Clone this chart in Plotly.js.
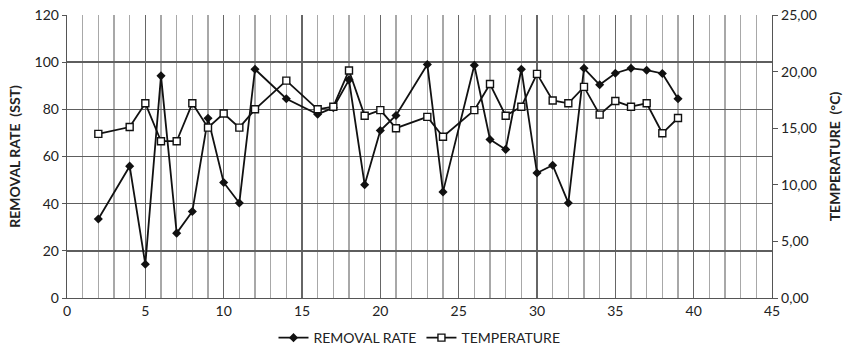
<!DOCTYPE html>
<html>
<head>
<meta charset="utf-8">
<script src="https://cdn.plot.ly/plotly-3.0.1.min.js"></script>
<style>html,body{margin:0;padding:0;background:#fff;}#chart{width:848px;height:351px;}</style>
</head>
<body>
<div id="chart"></div>
<script>
const removalX = [2,4,5,6,7,8,9,10,11,12,14,16,17,18,19,20,21,23,24,26,27,28,29,30,31,32,33,34,35,36,37,38,39];
const removalRate = [33.5,55.9,14.3,94.2,27.5,36.7,76.2,49,40.3,97,84.5,77.9,80.7,92.5,48,71,77.4,99,45,98.7,67.2,63,97,53,56.3,40.3,97.4,90.4,95.3,97.4,96.6,95.2,84.5];
const tempX = [2,4,5,6,7,8,9,10,11,12,14,16,17,18,19,20,21,23,24,26,27,28,29,30,31,32,33,34,35,36,37,38,39];
const temperature = [14.5,15.1,17.2,13.85,13.85,17.2,15.05,16.3,15.05,16.67,19.2,16.67,16.9,20.1,16.1,16.6,15.0,16.0,14.25,16.6,18.9,16.1,16.9,19.8,17.45,17.2,18.65,16.2,17.4,16.9,17.2,14.55,15.9];
const seriesNames = ['REMOVAL RATE','TEMPERATURE'];
const leftTitle = 'REMOVAL RATE  (SST)';
const rightTitle = 'TEMPERATURE  (°C)';

const font = 'Lato, "Open Sans", sans-serif';
const traces = [
  {x: removalX, y: removalRate, name: seriesNames[0], type: 'scatter', mode: 'lines+markers',
   line: {color: '#111', width: 1.8},
   marker: {symbol: 'diamond', size: 7, color: '#111'}, yaxis: 'y'},
  {x: tempX, y: temperature, name: seriesNames[1], type: 'scatter', mode: 'lines+markers',
   line: {color: '#111', width: 1.8},
   marker: {symbol: 'square', size: 7, color: '#fff', line: {color: '#111', width: 1.4}}, yaxis: 'y2'}
];
const layout = {
  width: 848, height: 351,
  margin: {l: 67, r: 76, t: 15, b: 53, autoexpand: false},
  paper_bgcolor: '#fff', plot_bgcolor: '#fff',
  separators: ',.',
  font: {family: font, size: 14, color: '#222'},
  showlegend: true,
  legend: {orientation: 'h', x: 0.5, xanchor: 'center', y: -0.085, yanchor: 'top',
           font: {family: font, size: 14, color: '#222'}, tracegroupgap: 0},
  xaxis: {range: [0, 45], dtick: 5, tick0: 0, showgrid: true, gridcolor: '#666', gridwidth: 1.4,
          minor: {dtick: 1, showgrid: true, gridcolor: '#a8a8a8', gridwidth: 1.4},
          showline: true, linecolor: '#555', linewidth: 1.3, zeroline: false,
          ticks: '', tickfont: {family: font, size: 14}},
  yaxis: {range: [0, 120], dtick: 20, showgrid: true, gridcolor: '#5e5e5e', gridwidth: 1.5,
          showline: true, linecolor: '#555', linewidth: 1.3, zeroline: false,
          ticks: 'outside', ticklen: 4, tickcolor: '#555',
          tickfont: {family: font, size: 14},
          title: {text: '<b>' + leftTitle + '</b>', font: {family: font, size: 14}, standoff: 10}},
  yaxis2: {range: [0, 25], dtick: 5, tickformat: '.2f', overlaying: 'y', side: 'right',
           showgrid: false, showline: true, linecolor: '#555', linewidth: 1.3, zeroline: false,
           ticks: 'outside', ticklen: 5, tickcolor: '#555',
           tickfont: {family: font, size: 14},
           title: {text: '<b>' + rightTitle + '</b>', font: {family: font, size: 14}, standoff: 14}}
};
Plotly.newPlot('chart', traces, layout, {displayModeBar: false, staticPlot: true});
</script>
</body>
</html>
